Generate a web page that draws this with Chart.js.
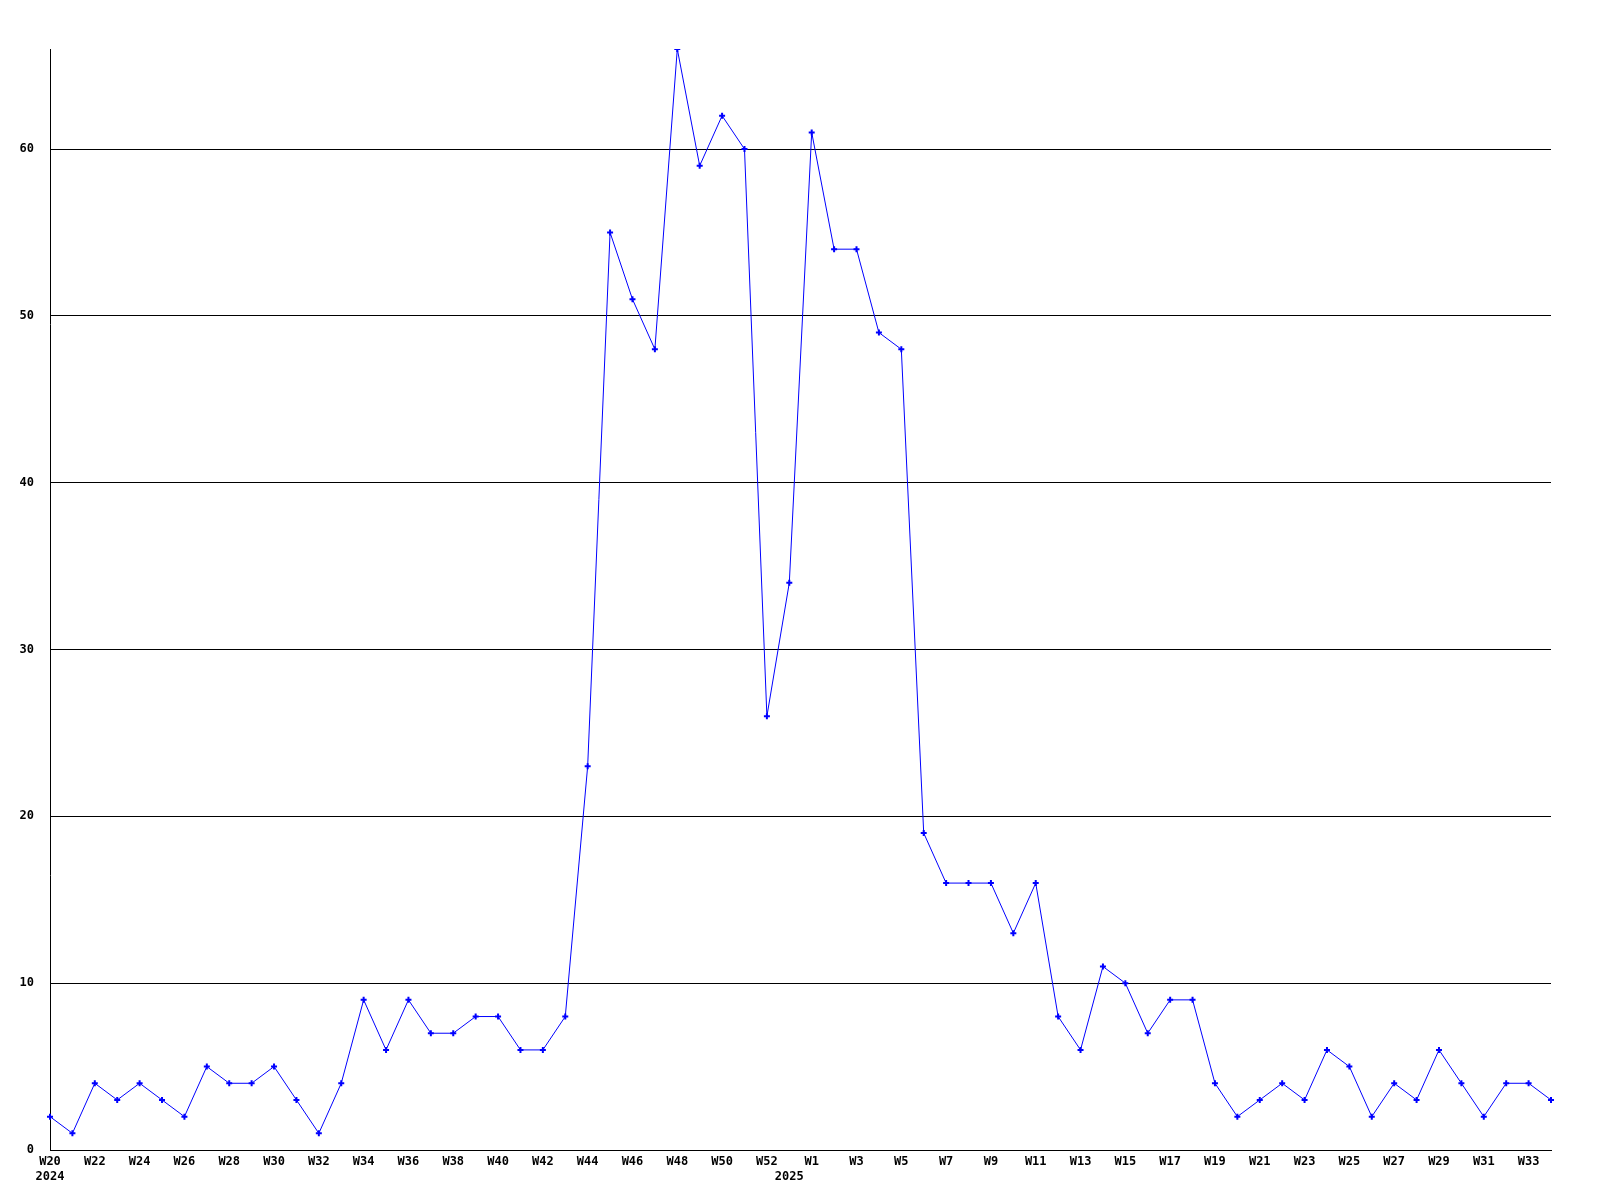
<!DOCTYPE html>
<html>
<head>
<meta charset="utf-8">
<script src="https://cdn.jsdelivr.net/npm/chart.js@4/dist/chart.umd.min.js"></script>
<style>
  html, body { margin: 0; padding: 0; background: #fff; }
  #wrap { width: 1600px; height: 1200px; }
</style>
</head>
<body>
<div id="wrap"><canvas id="weekly-chart" width="1600" height="1200"></canvas></div>
<script>
 // ---------- Data ----------
 const weeks = [
   'W20', 'W21', 'W22', 'W23', 'W24', 'W25', 'W26', 'W27', 'W28', 'W29',
   'W30', 'W31', 'W32', 'W33', 'W34', 'W35', 'W36', 'W37', 'W38', 'W39',
   'W40', 'W41', 'W42', 'W43', 'W44', 'W45', 'W46', 'W47', 'W48', 'W49',
   'W50', 'W51', 'W52', 'W0', 'W1', 'W2', 'W3', 'W4', 'W5', 'W6',
   'W7', 'W8', 'W9', 'W10', 'W11', 'W12', 'W13', 'W14', 'W15', 'W16',
   'W17', 'W18', 'W19', 'W20', 'W21', 'W22', 'W23', 'W24', 'W25', 'W26',
   'W27', 'W28', 'W29', 'W30', 'W31', 'W32', 'W33', 'W34'
 ];
 const counts = [
   2, 1, 4, 3, 4, 3, 2, 5, 4, 4,
   5, 3, 1, 4, 9, 6, 9, 7, 7, 8,
   8, 6, 6, 8, 23, 55, 51, 48, 66, 59,
   62, 60, 26, 34, 61, 54, 54, 49, 48, 19,
   16, 16, 16, 13, 16, 8, 6, 11, 10, 7,
   9, 9, 4, 2, 3, 4, 3, 6, 5, 2,
   4, 3, 6, 4, 2, 4, 4, 3
 ];
 // first week of each year gets the year printed under it
 const years = ['2024', '2025'];
 const yearStart = [0, 33];
 const yTicks = [0, 10, 20, 30, 40, 50, 60];

 const labelFont = { family: '"DejaVu Sans Mono", monospace', size: 12, weight: 'bold', lineHeight: 1.25 };

 // ---------- Line Graph ----------
 const weeklyCanvas = document.getElementById('weekly-chart');

 const weeklyData = {
   labels: weeks,
   datasets: [{
     data: counts,
     borderColor: '#0000ff',
     backgroundColor: '#0000ff',
     borderWidth: 1,
     pointStyle: 'cross',
     pointRadius: 3,
     pointBorderWidth: 2,
     pointHoverRadius: 3,
     tension: 0,
     fill: false
   }]
 };

 const weeklyOptions = {
   responsive: false,
   animation: false,
   layout: { padding: { top: 49, right: 49, left: 0, bottom: 0 } },
   scales: {
     x: {
       grid: { display: false, drawTicks: false, tickLength: 0 },
       border: { display: true, color: '#000', width: 1 },
       ticks: {
         autoSkip: false,
         maxRotation: 0,
         padding: 4,
         color: '#000',
         font: labelFont,
         callback: (value, i) => {
           const y = yearStart.indexOf(i);
           const wk = i % 2 === 0 ? weeks[i] : '';
           return y >= 0 ? [wk, years[y]] : wk;
         }
       },
       afterFit: (scale) => { scale.height = 50; }
     },
     y: {
       min: 0,
       max: 66,
       grid: { color: '#000', lineWidth: 1, drawTicks: false },
       border: { display: true, color: '#000', width: 1 },
       afterBuildTicks: (scale) => { scale.ticks = yTicks.map(v => ({ value: v })); },
       ticks: {
         padding: 16,
         color: '#000',
         font: labelFont
       },
       afterFit: (scale) => { scale.width = 50; }
     }
   },
   plugins: {
     legend: { display: false },
     tooltip: { enabled: false }
   }
 };

 let weeklyChart = new Chart(weeklyCanvas, {
   type: 'line',
   data: weeklyData,
   options: weeklyOptions
 });
</script>
</body>
</html>
